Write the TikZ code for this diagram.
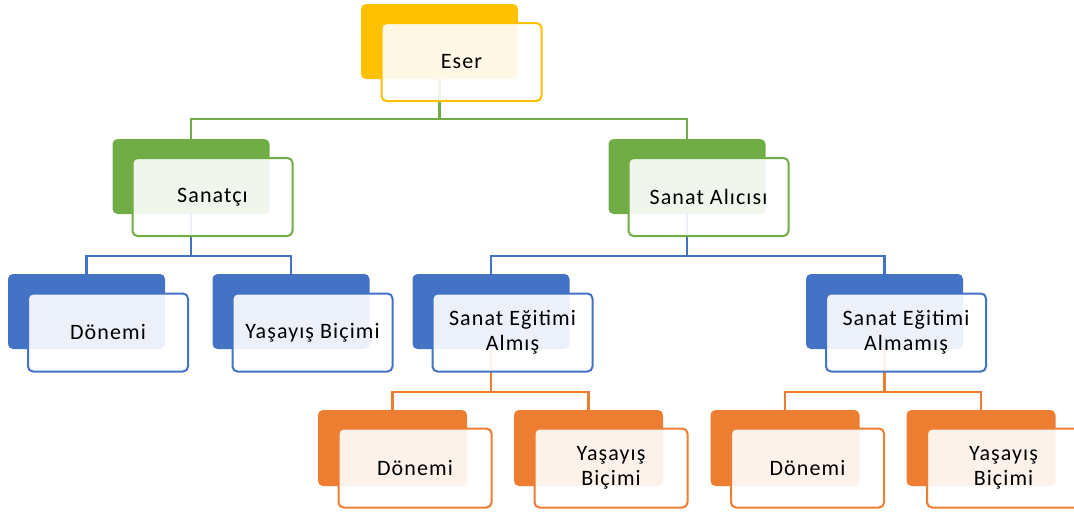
\documentclass[tikz,border=0pt]{standalone}
\usepackage{fontspec}
\setmainfont{Carlito}[LetterSpace=5]
\usepackage{xcolor}
\definecolor{goldc}{HTML}{FFC000}
\definecolor{greenc}{HTML}{70AD47}
\definecolor{bluec}{HTML}{4472C4}
\definecolor{orangec}{HTML}{ED7D31}

\begin{document}
\begin{tikzpicture}[x=1pt,y=-1pt,
    backbox/.style={fill=#1, rounded corners=5pt, inner sep=0pt,
        minimum width=157pt, minimum height=75pt},
    frontbox/.style={draw=#1, line width=2pt, rounded corners=5pt,
        fill=white, fill opacity=0.9, text opacity=1, inner sep=0pt,
        minimum width=160pt, minimum height=78pt, align=center,
        font=\fontsize{22}{25}\selectfont},
    lowback/.style={backbox=#1, minimum width=149pt, minimum height=76pt},
    lowfront/.style={frontbox=#1, minimum width=153pt, minimum height=79pt},
    link/.style={draw=#1, line width=2.2pt}]
				\useasboundingbox (0,0) rectangle (1074,512);
				
				\node[backbox=goldc] at (439.5,41.5) (eserB) {};
				\node[backbox=greenc] at (191,176.5) (sanatciB) {};
				\node[backbox=greenc] at (687,176.5) (alicisiB) {};
				\node[backbox=bluec] at (86.5,311.5) (donemB) {};
				\node[backbox=bluec] at (291,311.5) (yasayisB) {};
				\node[backbox=bluec] at (491,311.5) (almisB) {};
				\node[backbox=bluec] at (884.5,311.5) (almamisB) {};
				\node[lowback=orangec] at (392.5,448) (almisdonemB) {};
				\node[lowback=orangec] at (588.5,448) (almisyasayisB) {};
				\node[lowback=orangec] at (785,448) (almamisdonemB) {};
				\node[lowback=orangec] at (981,448) (almamisyasayisB) {};
				
				\draw[link=greenc] (eserB.south) -- ++(0,40) -| (sanatciB.north);
				\draw[link=greenc] (eserB.south) -- ++(0,40) -| (alicisiB.north);
				\draw[link=bluec] (sanatciB.south) -- ++(0,42) -| (donemB.north);
				\draw[link=bluec] (sanatciB.south) -- ++(0,42) -| (yasayisB.north);
				\draw[link=bluec] (alicisiB.south) -- ++(0,42) -| (almisB.north);
				\draw[link=bluec] (alicisiB.south) -- ++(0,42) -| (almamisB.north);
				\draw[link=orangec] (almisB.south) -- ++(0,43) -| (almisdonemB.north);
				\draw[link=orangec] (almisB.south) -- ++(0,43) -| (almisyasayisB.north);
				\draw[link=orangec] (almamisB.south) -- ++(0,43) -| (almamisdonemB.north);
				\draw[link=orangec] (almamisB.south) -- ++(0,43) -| (almamisyasayisB.north);
				
				\node[frontbox=goldc] at (461.5,62) (eserF) {Eser};
				\node[frontbox=greenc] at (212.5,197) (sanatciF) {Sanatçı};
				\node[frontbox=greenc] at (708.5,197) (alicisiF) {Sanat Alıcısı};
				\node[frontbox=bluec] at (108,332.5) (donemF) {Dönemi};
				\node[frontbox=bluec] at (312.5,332.5) (yasayisF) {Yaşayış Biçimi};
				\node[frontbox=bluec] at (512.5,332.5) (almisF) {Sanat Eğitimi\\Almış};
				\node[frontbox=bluec] at (906,332.5) (almamisF) {Sanat Eğitimi\\Almamış};
				\node[lowfront=orangec] at (415,468) (almisdonemF) {Dönemi};
				\node[lowfront=orangec] at (611,468) (almisyasayisF) {Yaşayış\\Biçimi};
				\node[lowfront=orangec] at (807.5,468) (almamisdonemF) {Dönemi};
				\node[lowfront=orangec] at (1003.5,468) (almamisyasayisF) {Yaşayış\\Biçimi};
			\end{tikzpicture}
\end{document}
